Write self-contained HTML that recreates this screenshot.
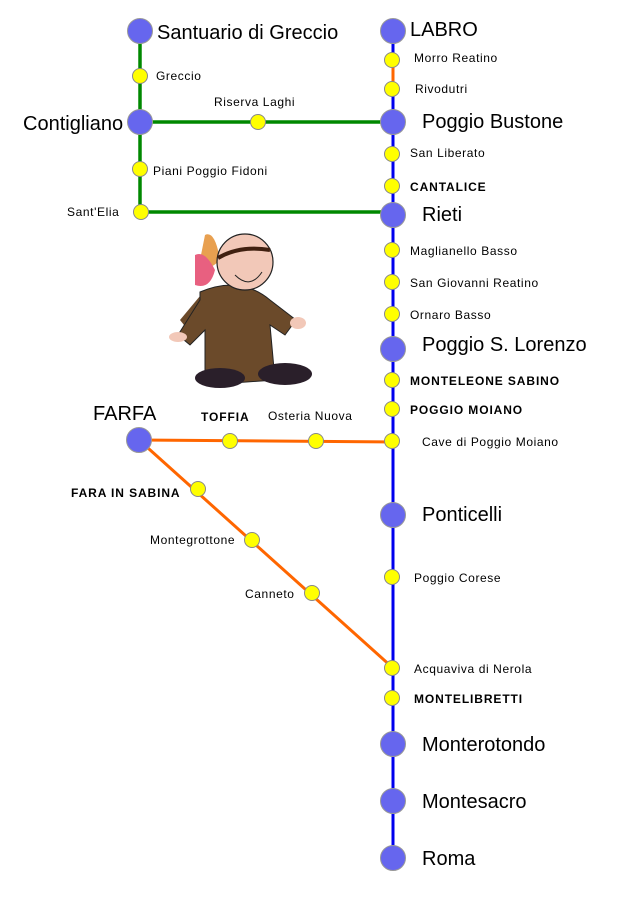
<!DOCTYPE html>
<html><head><meta charset="utf-8"><style>
html,body{margin:0;padding:0;background:#fff;}
svg{display:block;}
text{font-family:"Liberation Sans",sans-serif;fill:#000;}
.b{font-size:20px;}
.s{font-size:12px;letter-spacing:0.6px;}
.k{font-size:12px;font-weight:bold;letter-spacing:0.9px;}
</style></head><body>
<svg width="624" height="897" viewBox="0 0 624 897" xmlns="http://www.w3.org/2000/svg">
<line x1="393" y1="30" x2="393" y2="858" stroke="#0000ee" stroke-width="3"/>
<line x1="393" y1="62" x2="393" y2="86" stroke="#ff6600" stroke-width="3"/>
<g stroke="#008800" stroke-width="3.5">
<line x1="140" y1="30" x2="140" y2="212"/>
<line x1="140" y1="122" x2="393" y2="122"/>
<line x1="140" y1="212" x2="393" y2="212"/>
</g>
<g stroke="#ff6600" stroke-width="3">
<line x1="139" y1="440" x2="393" y2="442"/>
<line x1="139" y1="440" x2="393" y2="668"/>
</g>
<g>
<path d="M205 290 L180 320 L188 330 L200 318 L210 300 Z" fill="#6b4a2a"/>
<path d="M200 292 Q240 275 270 300 L296 320 L285 335 L270 325 L275 380 L205 385 L205 330 L190 345 L178 335 L200 300 Z" fill="#6b4a2a" stroke="#222" stroke-width="1"/>
<path d="M205 235 Q215 230 220 260 Q205 275 200 260 Z" fill="#e8a050"/>
<path d="M195 255 Q205 250 215 270 Q210 290 195 285 Z" fill="#e86080"/>
<circle cx="245" cy="262" r="28" fill="#f2c8b8" stroke="#222" stroke-width="1.2"/>
<path d="M218 258 Q240 245 270 250" stroke="#402010" stroke-width="4" fill="none"/>
<path d="M235 275 Q250 290 262 272" stroke="#222" fill="none"/>
<ellipse cx="220" cy="378" rx="25" ry="10" fill="#2a1f2a"/>
<ellipse cx="285" cy="374" rx="27" ry="11" fill="#2a1f2a"/>
<ellipse cx="178" cy="337" rx="9" ry="5" fill="#f2c8b8"/>
<ellipse cx="298" cy="323" rx="8" ry="6" fill="#f2c8b8"/>
</g>
<g fill="#6666ee" stroke="#999" stroke-width="1">
<circle cx="140" cy="31" r="12.5"/>
<circle cx="140" cy="122" r="12.5"/>
<circle cx="393" cy="31" r="12.5"/>
<circle cx="393" cy="122" r="12.5"/>
<circle cx="393" cy="215" r="12.5"/>
<circle cx="393" cy="349" r="12.5"/>
<circle cx="139" cy="440" r="12.5"/>
<circle cx="393" cy="515" r="12.5"/>
<circle cx="393" cy="744" r="12.5"/>
<circle cx="393" cy="801" r="12.5"/>
<circle cx="393" cy="858" r="12.5"/>
</g>
<g fill="#ffff00" stroke="#888" stroke-width="1">
<circle cx="140" cy="76" r="7.5"/>
<circle cx="140" cy="169" r="7.5"/>
<circle cx="141" cy="212" r="7.5"/>
<circle cx="258" cy="122" r="7.5"/>
<circle cx="392" cy="60" r="7.5"/>
<circle cx="392" cy="89" r="7.5"/>
<circle cx="392" cy="154" r="7.5"/>
<circle cx="392" cy="186" r="7.5"/>
<circle cx="392" cy="250" r="7.5"/>
<circle cx="392" cy="282" r="7.5"/>
<circle cx="392" cy="314" r="7.5"/>
<circle cx="392" cy="380" r="7.5"/>
<circle cx="392" cy="409" r="7.5"/>
<circle cx="392" cy="441" r="7.5"/>
<circle cx="230" cy="441" r="7.5"/>
<circle cx="316" cy="441" r="7.5"/>
<circle cx="198" cy="489" r="7.5"/>
<circle cx="252" cy="540" r="7.5"/>
<circle cx="312" cy="593" r="7.5"/>
<circle cx="392" cy="577" r="7.5"/>
<circle cx="392" cy="668" r="7.5"/>
<circle cx="392" cy="698" r="7.5"/>
</g>
<text class="b" x="157" y="39">Santuario di Greccio</text>
<text class="s" x="156" y="80">Greccio</text>
<text class="s" x="214" y="106">Riserva Laghi</text>
<text class="b" x="23" y="130">Contigliano</text>
<text class="s" x="153" y="175">Piani Poggio Fidoni</text>
<text class="s" x="67" y="216">Sant'Elia</text>
<text class="b" x="410" y="36">LABRO</text>
<text class="s" x="414" y="62">Morro Reatino</text>
<text class="s" x="415" y="93">Rivodutri</text>
<text class="b" x="422" y="128">Poggio Bustone</text>
<text class="s" x="410" y="157">San Liberato</text>
<text class="k" x="410" y="191">CANTALICE</text>
<text class="b" x="422" y="221">Rieti</text>
<text class="s" x="410" y="255">Maglianello Basso</text>
<text class="s" x="410" y="287">San Giovanni Reatino</text>
<text class="s" x="410" y="319">Ornaro Basso</text>
<text class="b" x="422" y="351">Poggio S. Lorenzo</text>
<text class="k" x="410" y="385">MONTELEONE SABINO</text>
<text class="k" x="410" y="414">POGGIO MOIANO</text>
<text class="s" x="422" y="446">Cave di Poggio Moiano</text>
<text class="b" x="93" y="420">FARFA</text>
<text class="k" x="201" y="421">TOFFIA</text>
<text class="s" x="268" y="420">Osteria Nuova</text>
<text class="k" x="71" y="497">FARA IN SABINA</text>
<text class="s" x="150" y="544">Montegrottone</text>
<text class="s" x="245" y="598">Canneto</text>
<text class="b" x="422" y="521">Ponticelli</text>
<text class="s" x="414" y="582">Poggio Corese</text>
<text class="s" x="414" y="673">Acquaviva di Nerola</text>
<text class="k" x="414" y="703">MONTELIBRETTI</text>
<text class="b" x="422" y="751">Monterotondo</text>
<text class="b" x="422" y="808">Montesacro</text>
<text class="b" x="422" y="865">Roma</text>
</svg>
</body></html>
